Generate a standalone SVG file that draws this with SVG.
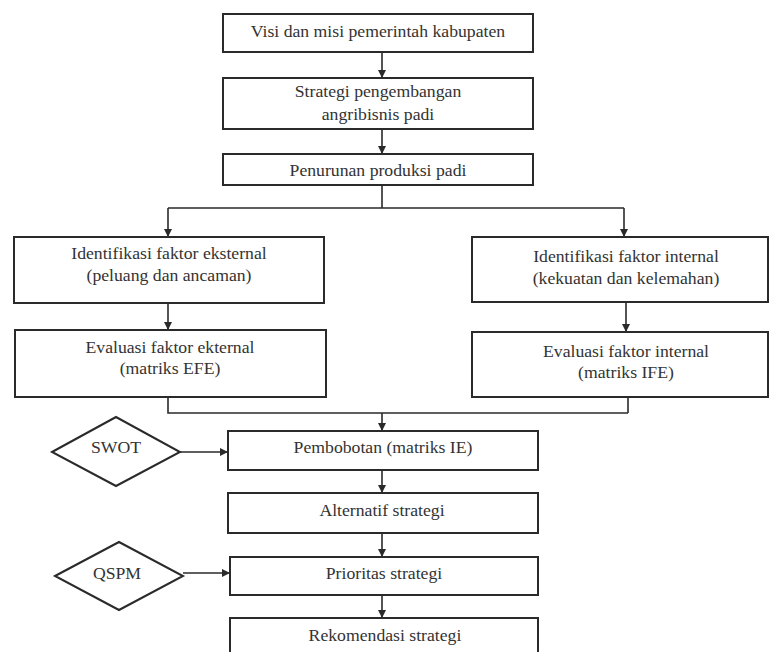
<svg xmlns="http://www.w3.org/2000/svg" width="769" height="652" viewBox="0 0 769 652">
<defs>
<marker id="ah" viewBox="0 0 10 10" refX="10" refY="5" markerWidth="8" markerHeight="8" markerUnits="userSpaceOnUse" orient="auto">
<path d="M0,0 L10,5 L0,10 z" fill="#2a2a2a"/>
</marker>
<style>
.box{fill:#fff;stroke:#2a2a2a;stroke-width:2}
.ln{fill:none;stroke:#2a2a2a;stroke-width:1.6}
.ar{fill:none;stroke:#2a2a2a;stroke-width:1.6;marker-end:url(#ah)}
text{font-family:"Liberation Serif","Times New Roman",serif;font-size:17.7px;fill:#333;text-anchor:middle}
</style>
</defs>
<rect width="769" height="652" fill="#fff"/>
<g id="connectors">
<path class="ar" d="M382,52 V78"/>
<path class="ar" d="M382,129 V154"/>
<path class="ln" d="M382,185 V208 M168,208 H624"/>
<path class="ar" d="M168,208 V237"/>
<path class="ar" d="M624,208 V237"/>
<path class="ar" d="M168,303 V330"/>
<path class="ar" d="M626,302 V332"/>
<path class="ln" d="M168,397 V413 H628 M628,397 V413"/>
<path class="ar" d="M382,413 V431"/>
<path class="ar" d="M382,470 V493"/>
<path class="ar" d="M382,533 V557"/>
<path class="ar" d="M382,595 V618"/>
<path class="ar" d="M180,452 H228"/>
<path class="ar" d="M183,573 H230"/>
</g>
<g id="n1"><rect class="box" x="223" y="14" width="310" height="38"/><text x="378" y="37">Visi dan misi pemerintah kabupaten</text></g>
<g id="n2"><rect class="box" x="223" y="78" width="310" height="51"/><text x="378" y="97">Strategi pengembangan</text><text x="378" y="120">angribisnis padi</text></g>
<g id="n3"><rect class="box" x="223" y="154" width="310" height="31"/><text x="378" y="176">Penurunan produksi padi</text></g>
<g id="n4"><rect class="box" x="14" y="237" width="310" height="66"/><text x="169" y="259">Identifikasi faktor eksternal</text><text x="169" y="281">(peluang dan ancaman)</text></g>
<g id="n5"><rect class="box" x="15" y="330" width="311" height="67"/><text x="170" y="353">Evaluasi faktor ekternal</text><text x="170" y="374">(matriks EFE)</text></g>
<g id="n6"><rect class="box" x="472" y="237" width="296" height="65"/><text x="626" y="262">Identifikasi faktor internal</text><text x="626" y="284">(kekuatan dan kelemahan)</text></g>
<g id="n7"><rect class="box" x="472" y="332" width="296" height="65"/><text x="626" y="357">Evaluasi faktor internal</text><text x="626" y="378">(matriks IFE)</text></g>
<g id="n8"><rect class="box" x="228" y="431" width="310" height="39"/><text x="383" y="453">Pembobotan (matriks IE)</text></g>
<g id="n9"><rect class="box" x="228" y="493" width="310" height="40"/><text x="382" y="516">Alternatif strategi</text></g>
<g id="n10"><rect class="box" x="230" y="557" width="308" height="38"/><text x="384" y="579">Prioritas strategi</text></g>
<g id="n11"><rect class="box" x="230" y="618" width="308" height="40"/><text x="385" y="641">Rekomendasi strategi</text></g>
<g id="swot"><polygon class="box" points="52,452 116,417 180,452 116,486"/><text x="116" y="453">SWOT</text></g>
<g id="qspm"><polygon class="box" points="55,576 119,542 183,576 119,610"/><text x="117" y="579">QSPM</text></g>
</svg>
